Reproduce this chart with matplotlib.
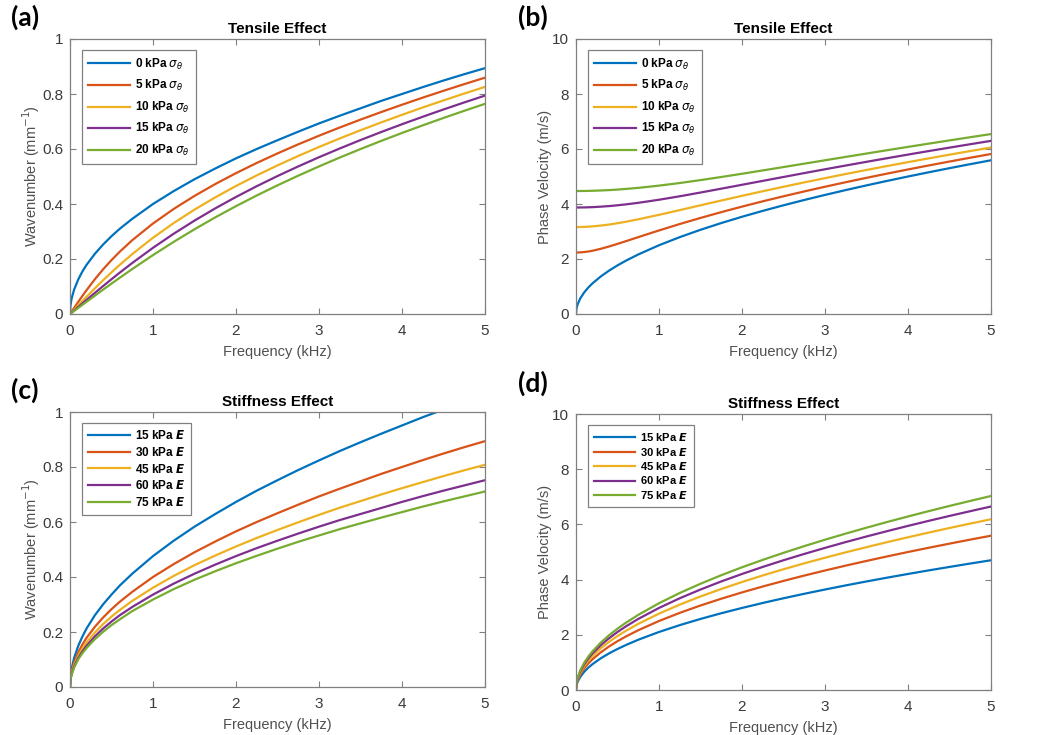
import numpy as np
import matplotlib
matplotlib.use("Agg")
import matplotlib.pyplot as plt

plt.rcParams['font.family'] = ['Liberation Sans', 'DejaVu Sans']
plt.rcParams['mathtext.fontset'] = 'dejavusans'

# frequency samples (kHz)
freq = [0, 0.005, 0.01, 0.02, 0.05, 0.1, 0.15, 0.2, 0.3, 0.4, 0.5, 0.6, 0.75, 1, 1.25, 1.5,
        1.75, 2, 2.25, 2.5, 2.75, 3, 3.25, 3.5, 3.75, 4, 4.25, 4.5, 4.75, 5]

# (a) tensile effect - wavenumber (1/mm)
k_t0 = [0, 0.028, 0.040, 0.057, 0.089, 0.126, 0.155, 0.179, 0.219, 0.253, 0.283, 0.310, 0.346, 0.400, 0.447,
        0.490, 0.529, 0.566, 0.600, 0.632, 0.663, 0.693, 0.721, 0.748, 0.775, 0.800, 0.825, 0.849, 0.872, 0.894]
k_t5 = [0, 0.0022, 0.0045, 0.0089, 0.0223, 0.0444, 0.0660, 0.0869, 0.1265, 0.1628, 0.1961, 0.2267, 0.2683, 0.3291, 0.3821,
        0.4294, 0.4725, 0.5122, 0.5492, 0.5840, 0.6170, 0.6483, 0.6782, 0.7069, 0.7344, 0.7610, 0.7868, 0.8117, 0.8359, 0.8594]
k_t10 = [0, 0.0016, 0.0032, 0.0063, 0.0158, 0.0316, 0.0472, 0.0628, 0.0933, 0.1229, 0.1515, 0.1789, 0.2178, 0.2773, 0.3308,
         0.3795, 0.4241, 0.4655, 0.5041, 0.5404, 0.5747, 0.6073, 0.6384, 0.6682, 0.6968, 0.7243, 0.7510, 0.7767, 0.8017, 0.8259]
k_t15 = [0, 0.0013, 0.0026, 0.0052, 0.0129, 0.0258, 0.0387, 0.0515, 0.0769, 0.1019, 0.1265, 0.1505, 0.1855, 0.2407, 0.2920,
         0.3396, 0.3841, 0.4256, 0.4648, 0.5017, 0.5367, 0.5701, 0.6019, 0.6325, 0.6618, 0.6901, 0.7173, 0.7438, 0.7693, 0.7942]
k_t20 = [0, 0.0011, 0.0022, 0.0045, 0.0112, 0.0223, 0.0335, 0.0446, 0.0668, 0.0888, 0.1105, 0.1319, 0.1635, 0.2142, 0.2624,
         0.3081, 0.3513, 0.3922, 0.4310, 0.4679, 0.5030, 0.5367, 0.5689, 0.5998, 0.6295, 0.6583, 0.6860, 0.7129, 0.7389, 0.7642]

# (b) tensile effect - phase velocity (m/s)
c_t0 = [0, 0.177, 0.250, 0.354, 0.559, 0.791, 0.968, 1.118, 1.369, 1.581, 1.768, 1.937, 2.165, 2.500, 2.795,
        3.062, 3.307, 3.536, 3.750, 3.953, 4.146, 4.330, 4.507, 4.677, 4.841, 5.000, 5.154, 5.303, 5.449, 5.590]
c_t5 = [2.236, 2.236, 2.236, 2.237, 2.240, 2.253, 2.274, 2.301, 2.372, 2.457, 2.550, 2.647, 2.795, 3.038, 3.272,
        3.493, 3.704, 3.905, 4.097, 4.281, 4.457, 4.628, 4.792, 4.952, 5.106, 5.256, 5.402, 5.544, 5.683, 5.818]
c_t10 = [3.162, 3.162, 3.162, 3.163, 3.164, 3.168, 3.176, 3.187, 3.216, 3.254, 3.301, 3.354, 3.443, 3.606, 3.778,
         3.953, 4.126, 4.297, 4.464, 4.627, 4.785, 4.940, 5.091, 5.238, 5.382, 5.522, 5.659, 5.794, 5.925, 6.054]
c_t15 = [3.873, 3.873, 3.873, 3.873, 3.874, 3.876, 3.881, 3.886, 3.903, 3.925, 3.953, 3.986, 4.043, 4.155, 4.281,
         4.417, 4.557, 4.699, 4.841, 4.983, 5.124, 5.263, 5.399, 5.534, 5.666, 5.797, 5.925, 6.050, 6.174, 6.296]
c_t20 = [4.472, 4.472, 4.472, 4.472, 4.473, 4.474, 4.477, 4.481, 4.492, 4.506, 4.525, 4.548, 4.587, 4.668, 4.763,
         4.869, 4.982, 5.100, 5.221, 5.343, 5.467, 5.590, 5.713, 5.835, 5.957, 6.077, 6.195, 6.313, 6.429, 6.543]

# (c) stiffness effect - wavenumber (1/mm)
k_e15 = [0, 0.034, 0.048, 0.067, 0.106, 0.150, 0.184, 0.213, 0.261, 0.301, 0.336, 0.369, 0.412, 0.476, 0.532,
         0.583, 0.629, 0.673, 0.714, 0.752, 0.789, 0.824, 0.858, 0.890, 0.921, 0.951, 0.981, 1.009, 1.037, 1.064]
k_e30 = [0, 0.028, 0.040, 0.057, 0.089, 0.126, 0.155, 0.179, 0.219, 0.253, 0.283, 0.310, 0.346, 0.400, 0.447,
         0.490, 0.529, 0.566, 0.600, 0.632, 0.663, 0.693, 0.721, 0.748, 0.775, 0.800, 0.825, 0.849, 0.872, 0.894]
k_e45 = [0, 0.026, 0.036, 0.051, 0.081, 0.114, 0.140, 0.162, 0.198, 0.229, 0.256, 0.280, 0.313, 0.361, 0.404,
         0.443, 0.478, 0.511, 0.542, 0.571, 0.599, 0.626, 0.652, 0.676, 0.700, 0.723, 0.745, 0.767, 0.788, 0.808]
k_e60 = [0, 0.024, 0.034, 0.048, 0.075, 0.106, 0.130, 0.150, 0.184, 0.213, 0.238, 0.261, 0.291, 0.336, 0.376,
         0.412, 0.445, 0.476, 0.505, 0.532, 0.558, 0.583, 0.607, 0.629, 0.651, 0.673, 0.694, 0.714, 0.733, 0.752]
k_e75 = [0, 0.023, 0.032, 0.045, 0.071, 0.101, 0.123, 0.142, 0.174, 0.201, 0.225, 0.246, 0.276, 0.318, 0.356,
         0.390, 0.421, 0.450, 0.477, 0.503, 0.528, 0.551, 0.574, 0.595, 0.616, 0.636, 0.656, 0.675, 0.693, 0.711]

# (d) stiffness effect - phase velocity (m/s)
c_e15 = [0, 0.149, 0.210, 0.297, 0.470, 0.665, 0.814, 0.940, 1.151, 1.330, 1.486, 1.628, 1.821, 2.102, 2.350,
         2.575, 2.781, 2.973, 3.153, 3.324, 3.486, 3.641, 3.790, 3.933, 4.071, 4.204, 4.334, 4.459, 4.582, 4.701]
c_e30 = [0, 0.177, 0.250, 0.354, 0.559, 0.791, 0.968, 1.118, 1.369, 1.581, 1.768, 1.937, 2.165, 2.500, 2.795,
         3.062, 3.307, 3.536, 3.750, 3.953, 4.146, 4.330, 4.507, 4.677, 4.841, 5.000, 5.154, 5.303, 5.449, 5.590]
c_e45 = [0, 0.196, 0.277, 0.391, 0.619, 0.875, 1.072, 1.237, 1.516, 1.750, 1.957, 2.143, 2.396, 2.767, 3.094,
         3.389, 3.660, 3.913, 4.151, 4.375, 4.589, 4.793, 4.988, 5.176, 5.358, 5.534, 5.704, 5.870, 6.030, 6.187]
c_e60 = [0, 0.210, 0.297, 0.420, 0.665, 0.940, 1.151, 1.330, 1.628, 1.880, 2.102, 2.303, 2.575, 2.973, 3.324,
         3.641, 3.933, 4.204, 4.460, 4.701, 4.930, 5.149, 5.360, 5.562, 5.757, 5.946, 6.129, 6.307, 6.479, 6.648]
c_e75 = [0, 0.222, 0.314, 0.445, 0.703, 0.994, 1.218, 1.406, 1.722, 1.988, 2.223, 2.435, 2.722, 3.144, 3.515,
         3.850, 4.159, 4.446, 4.715, 4.970, 5.213, 5.445, 5.667, 5.881, 6.088, 6.287, 6.481, 6.669, 6.851, 7.029]

colors = ['#0072BD', '#D95319', '#EDB120', '#7E2F8E', '#77AC30']
tension_labels = [r'0 kPa $\sigma_\theta$', r'5 kPa $\sigma_\theta$', r'10 kPa $\sigma_\theta$',
                  r'15 kPa $\sigma_\theta$', r'20 kPa $\sigma_\theta$']
stiff_labels = [r'15 kPa $\mathbfit{E}$', r'30 kPa $\mathbfit{E}$', r'45 kPa $\mathbfit{E}$',
                r'60 kPa $\mathbfit{E}$', r'75 kPa $\mathbfit{E}$']

fig = plt.figure(figsize=(10.5, 7.35), dpi=100)
W, H = 1050, 735


def make_ax(x0, y0, x1, y1):
    return fig.add_axes([x0 / W, 1 - y1 / H, (x1 - x0) / W, (y1 - y0) / H])


def style(ax, ymax, yticks, ylabels, ylabel, title):
    ax.set_xlim(0, 5)
    ax.set_ylim(0, ymax)
    ax.set_xticks([0, 1, 2, 3, 4, 5])
    ax.set_yticks(yticks)
    ax.set_yticklabels(ylabels)
    ax.tick_params(direction='in', top=True, right=True, length=4, width=0.8,
                   color='#808080', labelcolor='#3a3a3a', labelsize=11)
    ax.tick_params(axis='x', pad=7)
    ax.tick_params(axis='y', pad=5)
    for s in ax.spines.values():
        s.set_color('#808080')
        s.set_linewidth(0.9)
    ax.set_xlabel('Frequency (kHz)', fontsize=10.5, color='#505050', labelpad=5)
    ax.set_ylabel(ylabel, fontsize=10.5, color='#505050', labelpad=0)
    ax.set_title(title, fontsize=11, fontweight='bold', pad=4)


def add_legend(ax, spacing, size, hlen):
    leg = ax.legend(loc='upper left', bbox_to_anchor=(12 / 415, 1 - 11 / 275), borderaxespad=0,
                    prop={'weight': 'bold', 'size': size}, handlelength=hlen, handletextpad=0.4,
                    labelspacing=spacing, fancybox=False, framealpha=1, borderpad=0.55)
    leg.get_frame().set_edgecolor('#808080')
    leg.get_frame().set_linewidth(0.9)


yk = [0, 0.2, 0.4, 0.6, 0.8, 1]
yk_lab = ['0', '0.2', '0.4', '0.6', '0.8', '1']
yc = [0, 2, 4, 6, 8, 10]
yc_lab = ['0', '2', '4', '6', '8', '10']
klabel = 'Wavenumber (mm$^{-1}$)'
clabel = 'Phase Velocity (m/s)'

# (a)
ax = make_ax(70, 39, 485, 314)
for y, c, l in zip([k_t0, k_t5, k_t10, k_t15, k_t20], colors, tension_labels):
    ax.plot(freq, y, color=c, lw=1.6, label=l)
style(ax, 1, yk, yk_lab, klabel, 'Tensile Effect')
add_legend(ax, 0.55, 8.5, 3.5)

# (b)
ax = make_ax(576, 39, 991, 314)
for y, c, l in zip([c_t0, c_t5, c_t10, c_t15, c_t20], colors, tension_labels):
    ax.plot(freq, y, color=c, lw=1.6, label=l)
style(ax, 10, yc, yc_lab, clabel, 'Tensile Effect')
add_legend(ax, 0.55, 8.5, 3.5)

# (c)
ax = make_ax(70, 412, 485, 687)
for y, c, l in zip([k_e15, k_e30, k_e45, k_e60, k_e75], colors, stiff_labels):
    ax.plot(freq, y, color=c, lw=1.6, label=l)
style(ax, 1, yk, yk_lab, klabel, 'Stiffness Effect')
add_legend(ax, 0.3, 8.5, 3.5)

# (d)
ax = make_ax(576, 414, 991, 690)
for y, c, l in zip([c_e15, c_e30, c_e45, c_e60, c_e75], colors, stiff_labels):
    ax.plot(freq, y, color=c, lw=1.6, label=l)
style(ax, 10, yc, yc_lab, clabel, 'Stiffness Effect')
add_legend(ax, 0.22, 8, 3.7)

for lab, x, y in [('(a)', 11, 17), ('(b)', 518, 17), ('(c)', 11, 390), ('(d)', 518, 383)]:
    fig.text(x / W, 1 - y / H, lab, fontsize=19, fontweight='bold', family=['Lato', 'DejaVu Sans'],
             ha='left', va='center')

fig.savefig('out.png', dpi=100)
